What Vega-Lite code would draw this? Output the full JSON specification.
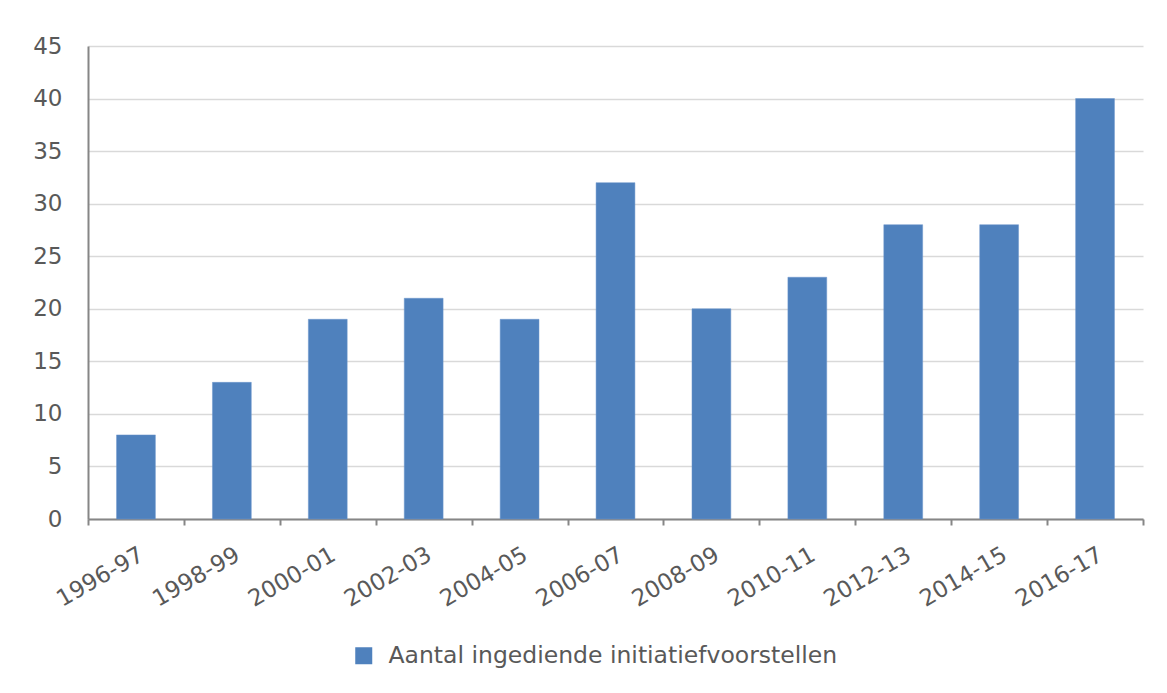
{
  "$schema": "https://vega.github.io/schema/vega-lite/v6.json",
  "width": 1055,
  "height": 473,
  "autosize": {"type": "none"},
  "padding": {"left": 88, "top": 46, "right": 24, "bottom": 174},
  "background": "white",
  "data": {
    "values": [
      {"periode": "1996-97", "aantal": 8, "serie": "Aantal ingediende initiatiefvoorstellen"},
      {"periode": "1998-99", "aantal": 13, "serie": "Aantal ingediende initiatiefvoorstellen"},
      {"periode": "2000-01", "aantal": 19, "serie": "Aantal ingediende initiatiefvoorstellen"},
      {"periode": "2002-03", "aantal": 21, "serie": "Aantal ingediende initiatiefvoorstellen"},
      {"periode": "2004-05", "aantal": 19, "serie": "Aantal ingediende initiatiefvoorstellen"},
      {"periode": "2006-07", "aantal": 32, "serie": "Aantal ingediende initiatiefvoorstellen"},
      {"periode": "2008-09", "aantal": 20, "serie": "Aantal ingediende initiatiefvoorstellen"},
      {"periode": "2010-11", "aantal": 23, "serie": "Aantal ingediende initiatiefvoorstellen"},
      {"periode": "2012-13", "aantal": 28, "serie": "Aantal ingediende initiatiefvoorstellen"},
      {"periode": "2014-15", "aantal": 28, "serie": "Aantal ingediende initiatiefvoorstellen"},
      {"periode": "2016-17", "aantal": 40, "serie": "Aantal ingediende initiatiefvoorstellen"}
    ]
  },
  "mark": {"type": "bar", "width": {"band": 0.405}, "stroke": "#6C97CC", "strokeWidth": 0.5},
  "encoding": {
    "x": {
      "field": "periode",
      "type": "nominal",
      "sort": null,
      "title": null,
      "scale": {"paddingInner": 0, "paddingOuter": 0},
      "axis": {
        "labelAngle": -30,
        "labelAlign": "right",
        "labelBaseline": "top",
        "labelFont": "DejaVu Sans",
        "labelFontSize": 23,
        "labelColor": "#595959",
        "labelPadding": 18,
        "labelOffset": 0,
        "tickBand": "extent",
        "ticks": true,
        "tickSize": 6,
        "tickColor": "#868686",
        "tickWidth": 2,
        "domainColor": "#868686",
        "domainWidth": 2,
        "grid": false
      }
    },
    "y": {
      "field": "aantal",
      "type": "quantitative",
      "title": null,
      "scale": {"domain": [0, 45], "nice": false},
      "axis": {
        "values": [0, 5, 10, 15, 20, 25, 30, 35, 40, 45],
        "labelFont": "DejaVu Sans",
        "labelFontSize": 23,
        "labelColor": "#595959",
        "labelPadding": 26,
        "ticks": false,
        "domainColor": "#868686",
        "domainWidth": 2,
        "grid": true,
        "gridColor": "#D9D9D9",
        "gridWidth": 1.5
      }
    },
    "color": {
      "field": "serie",
      "type": "nominal",
      "title": null,
      "scale": {"range": ["#4F81BD"]},
      "legend": {
        "orient": "none",
        "legendX": 264,
        "legendY": 598,
        "symbolType": "square",
        "symbolSize": 289,
        "symbolStrokeWidth": 0,
        "labelFont": "DejaVu Sans",
        "labelFontSize": 23.5,
        "labelColor": "#595959",
        "labelLimit": 700,
        "labelOffset": 13
      }
    }
  },
  "config": {
    "view": {"stroke": null},
    "axis": {"gridCap": "butt"}
  }
}
